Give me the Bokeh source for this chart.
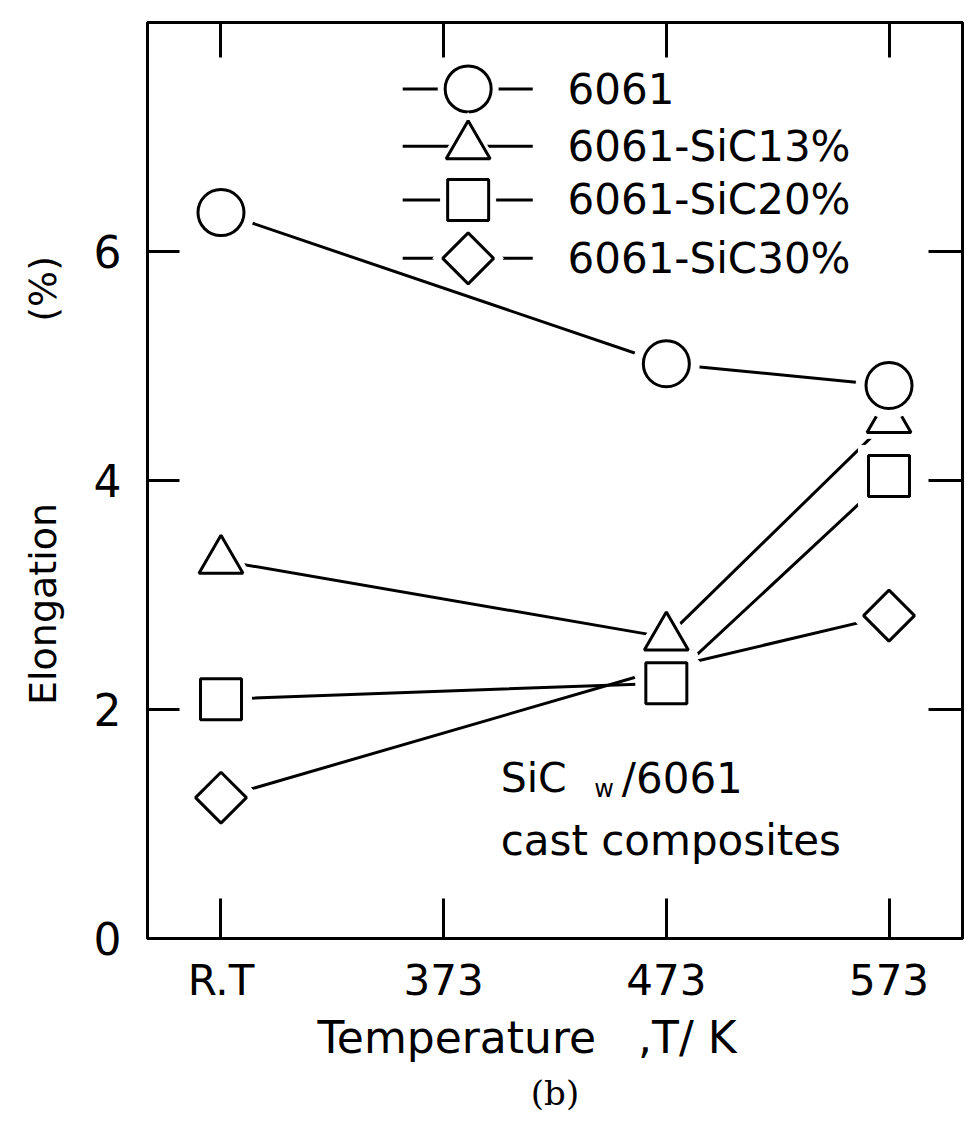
import math
from bokeh.plotting import figure
from bokeh.models import LinearAxis, FixedTicker, Range1d, Title
from bokeh.core.properties import value
from bokeh.embed import file_html
from bokeh.resources import INLINE

# ---- data -------------------------------------------------------------
tick_labels = ["R.T", "373", "473", "573"]
tick_pos = [0, 1, 2, 3]
meas_pos = [0, 2, 3]                      # R.T, 473 K, 573 K
series_names = ["6061", "6061-SiC13%", "6061-SiC20%", "6061-SiC30%"]
elong_6061 = [6.34, 5.02, 4.83]
elong_sic13 = [3.30, 2.63, 4.53]
elong_sic20 = [2.09, 2.23, 4.04]
elong_sic30 = [1.23, 2.36, 2.82]
y_ticks = [0, 2, 4, 6]
right_ticks = [2, 4, 6]

# legend layout (data units)
legend_y = [7.42, 6.92, 6.45, 5.94]
legend_line_x = [0.816, 1.40]
legend_marker_x = 1.11
legend_text_x = 1.556

FONT = "DejaVu Sans"
BLACK = "#000000"
NB = "\u00a0"

p = figure(width=967, height=1123, output_backend="svg", toolbar_location=None,
           x_range=Range1d(-0.33, 3.33), y_range=Range1d(0, 8),
           min_border_left=147, min_border_right=5, min_border_top=22,
           min_border_bottom=185, x_axis_location=None, y_axis_location=None)
p.background_fill_color = "white"
p.border_fill_color = "white"
p.grid.visible = False
p.outline_line_color = BLACK
p.outline_line_width = 3


def style_axis(ax, ticks, tick_in, show_labels, font_size="44px"):
    ax.ticker = FixedTicker(ticks=ticks)
    ax.minor_tick_line_color = None
    ax.major_tick_in = tick_in
    ax.major_tick_out = 0
    ax.major_tick_line_width = 3
    ax.major_tick_line_color = BLACK
    ax.axis_line_width = 3
    ax.axis_line_color = BLACK
    ax.major_label_text_font = FONT
    ax.major_label_text_font_size = font_size
    ax.major_label_text_color = BLACK
    if not show_labels:
        ax.major_label_overrides = {t: "" for t in ticks}
        ax.major_label_standoff = 0


# bottom axis
xb = LinearAxis()
style_axis(xb, tick_pos, 40, True, "42px")
xb.major_label_overrides = {k: v for k, v in zip(tick_pos, tick_labels)}
xb.major_label_standoff = 17
xb.axis_label = "Temperature" + NB * 3 + ",T/" + NB + "K" + NB * 4
xb.axis_label_text_font = FONT
xb.axis_label_text_font_size = "44px"
xb.axis_label_text_font_style = "normal"
xb.axis_label_text_color = BLACK
xb.axis_label_standoff = 4
p.add_layout(xb, "below")

# top axis
xt = LinearAxis()
style_axis(xt, tick_pos, 35, False)
p.add_layout(xt, "above")

# left axis
yl = LinearAxis()
style_axis(yl, y_ticks, 32, True, "44px")
yl.major_label_standoff = 26
yl.axis_label = "Elongation" + NB * 15 + "(%)"
yl.axis_label_text_font = FONT
yl.axis_label_text_font_size = "38px"
yl.axis_label_text_font_style = "normal"
yl.axis_label_text_color = BLACK
yl.axis_label_standoff = 26
p.add_layout(yl, "left")

# right axis
yr = LinearAxis()
style_axis(yr, right_ticks, 34, False)
p.add_layout(yr, "right")

# caption
cap = Title(text="(b)", align="center", text_font="DejaVu Serif",
            text_font_size="34px", text_font_style="normal", offset=0,
            text_color=BLACK)
p.add_layout(cap, "below")

# ---- series -----------------------------------------------------------
series = [
    (elong_6061, "circle", 46, 0.0),
    (elong_sic13, "triangle", 44, 0.0),
    (elong_sic20, "square", 41, 0.0),
    (elong_sic30, "square", 36, math.pi / 4),
]

for vals, _, _, _ in series:
    p.line(meas_pos, vals, line_color=BLACK, line_width=3)

# draw markers from the last series to the first so the upper ones overlap
for vals, marker, size, ang in reversed(series):
    p.scatter(meas_pos, vals, marker=marker, size=size + 20, angle=ang,
              fill_color="white", line_color="white", line_width=1)
    p.scatter(meas_pos, vals, marker=marker, size=size, angle=ang,
              fill_color="white", line_color=BLACK, line_width=3)

# ---- hand-drawn legend ------------------------------------------------
for (vals, marker, size, ang), ly, name in zip(series, legend_y, series_names):
    p.line(legend_line_x, [ly, ly], line_color=BLACK, line_width=3)
    p.scatter([legend_marker_x], [ly], marker=marker, size=size + 14, angle=ang,
              fill_color="white", line_color="white")
    p.scatter([legend_marker_x], [ly], marker=marker, size=size, angle=ang,
              fill_color="white", line_color=BLACK, line_width=3)
    p.text([legend_text_x], [ly], text=[name], text_font=value(FONT),
           text_font_size="42px", text_baseline="middle", text_align="left",
           text_color=BLACK)

# ---- annotation -------------------------------------------------------
ann_y1 = 1.40
ann_y2 = 0.86
p.text([1.256], [ann_y1], text=["SiC"], text_font=value(FONT), text_font_size="41px",
       text_baseline="middle", text_align="left", text_color=BLACK)
p.text([1.676], [ann_y1 - 0.09], text=["w"], text_font=value(FONT), text_font_size="24px",
       text_baseline="middle", text_align="left", text_color=BLACK)
p.text([1.80], [ann_y1], text=["/6061"], text_font=value(FONT), text_font_size="42px",
       text_baseline="middle", text_align="left", text_color=BLACK)
p.text([1.256], [ann_y2], text=["cast composites"], text_font=value(FONT),
       text_font_size="42px", text_baseline="middle", text_align="left", text_color=BLACK)

open("out.html", "w").write(file_html(p, INLINE))
